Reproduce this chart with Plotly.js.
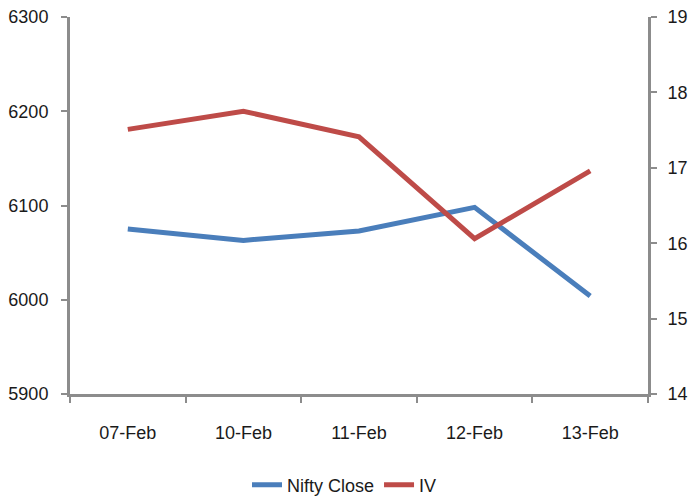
<!DOCTYPE html>
<html><head><meta charset="utf-8">
<script src="https://cdn.plot.ly/plotly-3.0.1.min.js"></script>
<style>body{margin:0;background:#fff}#c{width:689px;height:497px}</style>
</head><body><div id="c"></div>
<script>
const categories = ["07-Feb","10-Feb","11-Feb","12-Feb","13-Feb"];
const niftyClose = [6075, 6063, 6073, 6098, 6004];
const iv = [17.51, 17.75, 17.41, 16.06, 16.96];
const leftTicks = [5900, 6000, 6100, 6200, 6300];
const rightTicks = [14, 15, 16, 17, 18, 19];

const font = {family: "Liberation Sans, Arial, sans-serif", size: 18, color: "#1a1a1a"};
const axisCol = "#8c8c8c";
const data = [
  {x: categories, y: niftyClose, name: "Nifty Close", type: "scatter", mode: "lines",
   line: {color: "#4a7ebb", width: 5}, yaxis: "y"},
  {x: categories, y: iv, name: "IV", type: "scatter", mode: "lines",
   line: {color: "#be4b48", width: 5}, yaxis: "y2"}
];
const layout = {
  width: 689, height: 497,
  margin: {l: 70, r: 41, t: 17, b: 103},
  paper_bgcolor: "#fff", plot_bgcolor: "#fff",
  font: font,
  showlegend: true,
  legend: {orientation: "h", x: 0.5, xanchor: "center", xref: "container", yref: "container", y: 0.024, yanchor: "middle", font: font},
  xaxis: {type: "category", showgrid: false, zeroline: false, showline: true, linecolor: axisCol, linewidth: 3,
          ticks: "outside", tickson: "boundaries", ticklen: 6, tickwidth: 2, tickcolor: axisCol, ticklabelstandoff: 20,
          range: [-0.5, 4.5], automargin: false},
  yaxis: {range: [5900, 6300], tickvals: leftTicks, showgrid: false, zeroline: false, showline: true, automargin: false,
          linecolor: axisCol, linewidth: 3, ticks: "outside", ticklen: 6, tickwidth: 2, tickcolor: axisCol, ticklabelstandoff: 9},
  yaxis2: {range: [14, 19], tickvals: rightTicks, overlaying: "y", side: "right", showgrid: false, zeroline: false, automargin: false,
           showline: true, linecolor: axisCol, linewidth: 3, ticks: "outside", ticklen: 6, tickwidth: 2, tickcolor: axisCol, ticklabelstandoff: 7}
};
Plotly.newPlot("c", data, layout, {displayModeBar: false, staticPlot: true});
</script></body></html>
